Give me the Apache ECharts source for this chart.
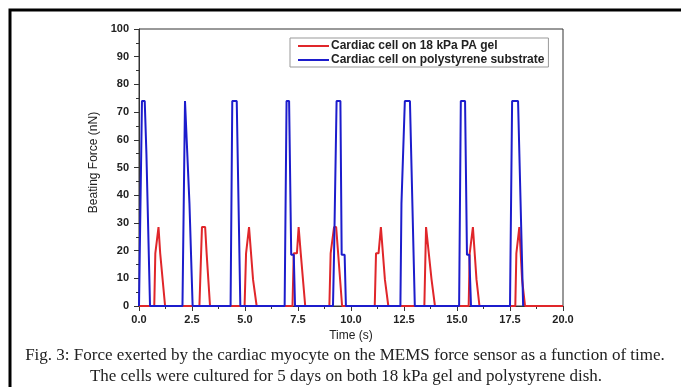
<!DOCTYPE html>
<html>
<head>
<meta charset="utf-8">
<script src="https://cdn.jsdelivr.net/npm/echarts@6/dist/echarts.min.js"></script>
<style>
  html, body { margin: 0; padding: 0; background: #fff; }
  #chart { width: 681px; height: 387px; }
</style>
</head>
<body>
<div id="chart"></div>
<script>
// Series names
const seriesNames = ['Cardiac cell on 18 kPa PA gel', 'Cardiac cell on polystyrene substrate'];

// Red trace: [time (s), force (nN)]
const gelTrace = [
  [0, 0],
  [0.72, 0], [0.77, 19], [0.85, 19], [0.92, 28.5], [1.0, 19], [1.08, 19], [1.23, 0],
  [2.85, 0], [2.97, 28.5], [3.12, 28.5], [3.19, 19], [3.26, 19], [3.35, 0],
  [4.98, 0], [5.05, 19], [5.13, 19], [5.19, 28.5], [5.26, 28.5], [5.38, 9.5], [5.47, 9.5], [5.55, 0],
  [7.24, 0], [7.3, 19], [7.45, 19], [7.53, 28.5], [7.63, 19], [7.72, 19], [7.84, 0],
  [8.98, 0], [9.04, 19], [9.13, 19], [9.2, 28.5], [9.3, 28.5], [9.58, 0],
  [11.12, 0], [11.18, 19], [11.3, 19], [11.41, 28.5], [11.47, 28.5], [11.6, 9.5], [11.67, 9.5], [11.76, 0],
  [13.46, 0], [13.54, 28.5], [13.6, 28.5], [13.8, 9.5], [13.88, 9.5], [13.96, 0],
  [15.55, 0], [15.6, 19], [15.66, 19], [15.75, 28.5], [15.8, 28.5], [15.92, 9.5], [15.98, 9.5], [16.06, 0],
  [17.75, 0], [17.8, 19], [17.86, 19], [17.94, 28.5], [18.07, 9.5], [18.12, 9.5], [18.21, 0],
  [20, 0]
];

// Blue trace: [time (s), force (nN)]
const polystyreneTrace = [
  [0, 0],
  [0.06, 0], [0.14, 74], [0.27, 74], [0.35, 55], [0.42, 55], [0.52, 0],
  [2.05, 0], [2.17, 74], [2.25, 74], [2.38, 37], [2.46, 37], [2.53, 0],
  [4.32, 0], [4.4, 74], [4.61, 74], [4.78, 0],
  [6.87, 0], [6.96, 74], [7.08, 74], [7.18, 18.5], [7.3, 18.5], [7.36, 0],
  [9.15, 0], [9.2, 18.5], [9.25, 18.5], [9.32, 74], [9.5, 74], [9.56, 18.5], [9.7, 18.5], [9.76, 0],
  [12.33, 0], [12.38, 37], [12.47, 37], [12.54, 74], [12.78, 74], [13.01, 0],
  [15.1, 0], [15.18, 74], [15.38, 74], [15.47, 18.5], [15.58, 18.5], [15.66, 0],
  [17.5, 0], [17.6, 74], [17.88, 74], [18.12, 0]
];

const captionLines = [
  'Fig. 3: Force exerted by the cardiac myocyte on the MEMS force sensor as a function of time.',
  'The cells were cultured for 5 days on both 18 kPa gel and polystyrene dish.'
];

const COLORS = {
  RED: '#e0262a',
  BLUE: '#1c1ccc',
  AXIS: '#333333'
};

const axisCommon = {
  axisLine: { show: true, lineStyle: { color: COLORS.AXIS, width: 1 } },
  axisTick: { show: true, inside: false, length: 5, lineStyle: { color: COLORS.AXIS } },
  minorTick: { show: true, splitNumber: 2, length: 3, lineStyle: { color: COLORS.AXIS } },
  splitLine: { show: false },
  axisLabel: {
    fontFamily: 'Liberation Sans, Arial, sans-serif',
    fontWeight: 'bold',
    fontSize: 11,
    color: '#222'
  },
  nameTextStyle: {
    fontFamily: 'Liberation Sans, Arial, sans-serif',
    fontSize: 12,
    color: '#222'
  }
};

const captionStyle = {
  fontFamily: 'Liberation Serif, Times New Roman, serif',
  fontSize: 17,
  fill: '#222',
  textAlign: 'center',
  textVerticalAlign: 'middle'
};

const chart = echarts.init(document.getElementById('chart'), null, { renderer: 'canvas' });

chart.setOption({
  backgroundColor: '#fff',
  animation: false,
  grid: {
    left: 139, right: 118, top: 29, bottom: 81,
    show: true, borderColor: COLORS.AXIS, borderWidth: 1
  },
  legend: {
    data: seriesNames,
    orient: 'vertical',
    left: 290,
    top: 38,
    itemWidth: 31,
    itemHeight: 2,
    itemGap: 2,
    icon: 'rect',
    padding: [2, 4, 1, 8],
    borderColor: '#999',
    borderWidth: 1,
    textStyle: {
      fontFamily: 'Liberation Sans, Arial, sans-serif',
      fontWeight: 'bold',
      fontSize: 12,
      color: '#222',
      padding: [0, 0, 0, -3]
    }
  },
  xAxis: Object.assign({}, axisCommon, {
    type: 'value',
    min: 0,
    max: 20,
    interval: 2.5,
    name: 'Time (s)',
    nameLocation: 'middle',
    nameGap: 24,
    axisLabel: Object.assign({}, axisCommon.axisLabel, {
      margin: 8,
      formatter: (v) => v.toFixed(1)
    })
  }),
  yAxis: Object.assign({}, axisCommon, {
    type: 'value',
    min: 0,
    max: 100,
    interval: 10,
    name: 'Beating Force (nN)',
    nameLocation: 'middle',
    nameGap: 26,
    nameTextStyle: Object.assign({}, axisCommon.nameTextStyle, { padding: [0, 0, 0, 10] }),
    axisLabel: Object.assign({}, axisCommon.axisLabel, { margin: 10 })
  }),
  series: [
    {
      name: seriesNames[0],
      type: 'line',
      data: gelTrace,
      symbol: 'none',
      lineStyle: { color: COLORS.RED, width: 2 },
      itemStyle: { color: COLORS.RED }
    },
    {
      name: seriesNames[1],
      type: 'line',
      data: polystyreneTrace,
      symbol: 'none',
      lineStyle: { color: COLORS.BLUE, width: 2 },
      itemStyle: { color: COLORS.BLUE }
    }
  ],
  graphic: [
    {
      type: 'polyline',
      shape: { points: [[10, 387], [10, 10], [681, 10]] },
      style: { stroke: '#000', lineWidth: 3, fill: 'none' }
    },
    {
      type: 'text',
      x: 345,
      y: 356,
      style: Object.assign({ text: captionLines[0] }, captionStyle)
    },
    {
      type: 'text',
      x: 346,
      y: 377,
      style: Object.assign({ text: captionLines[1] }, captionStyle)
    }
  ]
});
</script>
</body>
</html>
